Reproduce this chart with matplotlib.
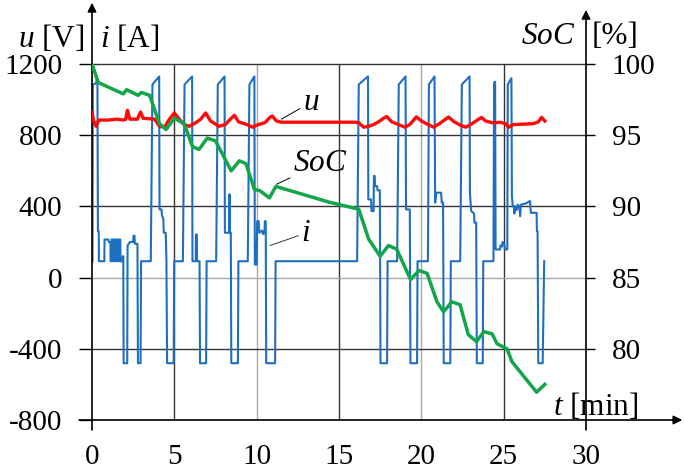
import numpy as np
import matplotlib
matplotlib.use("Agg")
import matplotlib.pyplot as plt

plt.rcParams["font.family"] = ["Liberation Serif", "DejaVu Serif"]
plt.rcParams["mathtext.fontset"] = "custom"
plt.rcParams["mathtext.rm"] = "Liberation Serif"
plt.rcParams["mathtext.it"] = "Liberation Serif:italic"
plt.rcParams["axes.unicode_minus"] = False

# ---------- data ----------
x_ticks = [0, 5, 10, 15, 20, 25, 30]
left_ticks = [-800, -400, 0, 400, 800, 1200]
right_ticks = [80, 85, 90, 95, 100]

# voltage u [V]
u_t = [0.0, 0.1, 0.25, 0.4, 1.0, 1.5, 1.9, 2.05, 2.15, 2.3, 2.75, 2.95, 3.1, 3.8, 4.1, 4.4,
       4.7, 5.0, 5.3, 5.6, 5.9, 6.3, 6.6, 6.9, 7.2, 7.7, 8.1, 8.4, 8.65, 8.9, 9.4, 9.75,
       10.1, 10.5, 10.8, 10.95, 11.2, 11.5, 16.0, 16.2, 16.5, 16.8, 17.1, 17.4, 17.7, 17.9,
       18.2, 18.6, 19.0, 19.3, 19.7, 20.0, 20.4, 20.75, 21.1, 21.4, 21.65, 22.0, 22.4, 22.7,
       23.0, 23.4, 23.65, 23.9, 24.3, 24.8, 25.1, 25.3, 25.6, 26.2, 26.8, 27.1, 27.3, 27.5]
u_v = [930, 880, 850, 885, 885, 890, 885, 890, 940, 890, 890, 930, 895, 890, 850, 845,
       890, 925, 890, 860, 850, 870, 890, 925, 880, 850, 860, 890, 912, 875, 860, 845,
       860, 870, 900, 908, 880, 873, 873, 870, 845, 850, 860, 875, 895, 905,
       875, 860, 845, 860, 903, 880, 860, 845, 865, 885, 902, 875, 855, 845,
       860, 885, 900, 880, 870, 872, 865, 845, 860, 862, 865, 875, 900, 880]

# state of charge SoC [%]
soc_t = [0.0, 0.38, 1.9, 2.1, 2.8, 3.0, 3.5, 4.1, 4.5, 5.0, 5.6, 6.1, 6.5, 7.0, 7.5, 8.45,
         8.95, 9.35, 9.86, 10.2, 10.77, 11.17, 14.4, 16.2, 16.8, 17.5, 18.0, 18.5, 19.35,
         19.85, 20.35, 20.95, 21.35, 21.85, 22.35, 22.85, 23.35, 23.8, 24.3, 24.6, 25.2,
         25.5, 27.0, 27.5]
soc_v = [100.0, 98.7, 97.9, 98.2, 97.8, 98.0, 97.8, 95.8, 95.4, 96.2, 95.8, 94.2, 94.0, 94.8,
         94.6, 92.5, 93.2, 93.0, 91.2, 91.1, 90.6, 91.4, 90.3, 89.8, 87.7, 86.5, 87.25, 87.0,
         84.86, 85.5, 85.3, 83.3, 82.6, 83.3, 83.1, 81.0, 80.5, 81.2, 81.05, 80.35, 80.0,
         79.1, 76.95, 77.5]

# current i [A]  (time, value) vertices
i_pts = [
    (0.03, 92), (0.05, 1085), (0.22, 1090), (0.33, 1115), (0.36, 261), (0.41, 261), (0.42, 92),
    (0.75, 92), (0.76, 214), (1.00, 214), (1.02, 200), (1.12, 200), (1.13, 92), (1.18, 92),
    (1.19, 214), (1.27, 214), (1.28, 92), (1.33, 92), (1.34, 214), (1.42, 214), (1.43, 92),
    (1.48, 92), (1.49, 214), (1.57, 214), (1.58, 92), (1.63, 92), (1.64, 214), (1.72, 214),
    (1.73, 92), (1.84, 92), (1.86, 120), (1.90, 120), (1.92, -481), (2.14, -481), (2.16, 180),
    (2.30, 200), (2.50, 200), (2.52, 235), (2.58, 235), (2.60, 190), (2.76, 190), (2.79, -481),
    (2.95, -481), (2.98, 92), (3.57, 92), (3.67, 1085), (4.08, 1130), (4.10, 383), (4.22, 383),
    (4.25, 350), (4.33, 330), (4.36, 252), (4.48, 252), (4.52, 92), (4.56, -481), (4.96, -481),
    (4.99, 92), (5.52, 92), (5.62, 1085), (6.08, 1130), (6.10, 92), (6.30, 92), (6.31, 242),
    (6.37, 242), (6.38, 92), (6.53, 92), (6.56, -481), (6.93, -481), (6.96, 92), (7.54, 92),
    (7.64, 1085), (8.05, 1130), (8.07, 252), (8.32, 252), (8.33, 467), (8.37, 467), (8.38, 252),
    (8.43, 252), (8.46, -481), (8.86, -481), (8.89, 92), (9.46, 92), (9.56, 1085), (9.86, 1130),
    (9.89, 73), (10.00, 73), (10.03, 317), (10.12, 317), (10.16, 252), (10.33, 265), (10.38, 245),
    (10.47, 250), (10.50, 317), (10.55, 317), (10.58, -481), (11.12, -481), (11.15, 92),
    (16.10, 92), (16.20, 1085), (16.76, 1130), (16.78, 439), (16.95, 439), (16.97, 374),
    (17.10, 374), (17.12, 571), (17.17, 571), (17.19, 514), (17.32, 514), (17.34, 490),
    (17.48, 490), (17.52, -481), (17.92, -481), (17.95, 92), (18.53, 92), (18.63, 1085),
    (19.04, 1130), (19.07, 383), (19.30, 383), (19.34, -481), (19.74, -481), (19.77, 92),
    (20.40, 92), (20.46, 1085), (20.80, 1130), (20.84, 421), (20.90, 477), (21.20, 477),
    (21.24, 421), (21.32, 421), (21.36, -481), (21.76, -481), (21.79, 92), (22.36, 92),
    (22.46, 1085), (22.93, 1130), (22.95, 477), (23.03, 374), (23.20, 360), (23.23, 308),
    (23.33, 308), (23.37, -481), (23.73, -481), (23.76, 92), (24.38, 92), (24.42, 1095),
    (24.48, 1100), (24.51, 158), (24.78, 158), (24.80, 180), (24.90, 175), (24.93, 200),
    (25.05, 185), (25.07, 158), (25.22, 158), (25.25, 1085), (25.47, 1120), (25.50, 458),
    (25.55, 400), (25.62, 402), (25.65, 360), (25.72, 400), (25.80, 380), (25.85, 410),
    (25.95, 400), (26.00, 345), (26.05, 410), (26.30, 415), (26.60, 430), (26.65, 364),
    (27.00, 364), (27.02, 261), (27.06, 261), (27.10, -481), (27.37, -481), (27.46, 92),
]
i_t = [p[0] for p in i_pts]
i_v = [p[1] for p in i_pts]

BLUE = "#1f6fc0"
RED = "#ff0a0a"
GREEN = "#12a64a"
DARK = "#333333"
LIGHT = "#a8a8a8"
# which vertical / horizontal grid lines are light grey
grid_x_light = {10, 20}
grid_y_light = {0}

# ---------- figure ----------
W, H = 684, 469
fig = plt.figure(figsize=(W / 100, H / 100), dpi=100)
ax = fig.add_axes([92 / W, 1 - 420 / H, (586 - 92) / W, (420 - 64) / H])
ax2 = ax.twinx()

ax.set_xlim(0, 30)
ax.set_ylim(-800, 1200)
ax2.set_ylim(75, 100)

for s in list(ax.spines.values()) + list(ax2.spines.values()):
    s.set_visible(False)

# grid
for xv in x_ticks[1:-1]:
    ax.axvline(xv, color=LIGHT if xv in grid_x_light else DARK, lw=1.0, zorder=1)
for yv in left_ticks[1:]:
    ax.axhline(yv, color=LIGHT if yv in grid_y_light else DARK, lw=1.0, zorder=1, clip_on=False)

ax.plot(i_t, i_v, color=BLUE, lw=1.5, zorder=3)
ax.plot(u_t, u_v, color=RED, lw=2.4, zorder=4)
ax2.plot(soc_t, soc_v, color=GREEN, lw=2.5, zorder=5)

fs = 21      # tick labels
fl = 22.5    # axis titles and curve labels
ax.set_xticks(x_ticks)
ax.set_yticks(left_ticks)
ax.tick_params(axis="x", length=0, pad=17, labelsize=fs)
ax.tick_params(axis="y", direction="out", length=9.5, width=1.0, color="black", pad=12, labelsize=fs)
ax2.set_yticks(right_ticks)
ax2.tick_params(axis="y", direction="out", length=6.5, width=1.0, color="black", pad=12, labelsize=fs)

# axis lines with arrows
arrow = dict(arrowstyle="-|>", color="black", lw=1.2, mutation_scale=13, shrinkA=0, shrinkB=0)
ax.annotate("", xy=(0, 1.172), xytext=(0, -0.028), xycoords="axes fraction",
            textcoords="axes fraction", arrowprops=arrow, annotation_clip=False)
ax.annotate("", xy=(1, 1.152), xytext=(1, -0.028), xycoords="axes fraction",
            textcoords="axes fraction", arrowprops=arrow, annotation_clip=False)
ax.annotate("", xy=(1.195, 0), xytext=(-0.026, 0), xycoords="axes fraction",
            textcoords="axes fraction", arrowprops=arrow, annotation_clip=False)

# axis titles
fig.text(84 / W, 1 - 47 / H, "$u$ [V]", ha="right", va="baseline", fontsize=fl)
fig.text(100 / W, 1 - 47 / H, "$i$ [A]", ha="left", va="baseline", fontsize=fl)
fig.text(575 / W, 1 - 44 / H, "$SoC$", ha="right", va="baseline", fontsize=fl)
fig.text(592 / W, 1 - 44 / H, "[%]", ha="left", va="baseline", fontsize=fl)
fig.text(553 / W, 1 - 415 / H, "$t$ [min]", ha="left", va="baseline", fontsize=fl)

# curve labels with leader lines
lead = dict(arrowstyle="-", color="black", lw=0.7, shrinkA=0, shrinkB=0)
ax.annotate("$u$", xy=(11.5, 890), xytext=(12.8, 985), fontsize=fl, ha="left", va="center",
            arrowprops=lead)
ax.annotate("$SoC$", xy=(11.2, 524), xytext=(12.2, 640), fontsize=fl, ha="left", va="center",
            arrowprops=lead)
ax.annotate("$i$", xy=(10.8, 180), xytext=(12.7, 250), fontsize=fl, ha="left", va="center",
            arrowprops=dict(arrowstyle="-", color="black", lw=0.6, ls=(0, (2, 1)),
                            shrinkA=0, shrinkB=0))

fig.savefig("out.png", dpi=100)
